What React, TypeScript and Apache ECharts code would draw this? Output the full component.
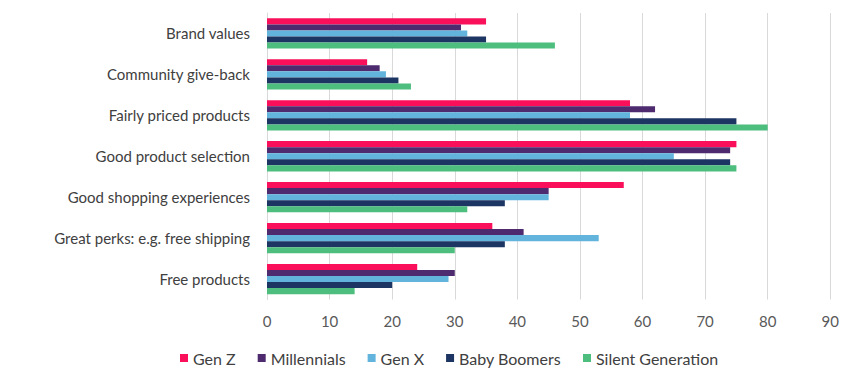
import React, { useEffect, useRef } from "react";
import * as echarts from "echarts";

const categories = [
  "Brand values",
  "Community give-back",
  "Fairly priced products",
  "Good product selection",
  "Good shopping experiences",
  "Great perks: e.g. free shipping",
  "Free products",
];
const seriesNames = ["Gen Z", "Millennials", "Gen X", "Baby Boomers", "Silent Generation"];
const genZ = [35, 16, 58, 75, 57, 36, 24];
const millennials = [31, 18, 62, 74, 45, 41, 30];
const genX = [32, 19, 58, 65, 45, 53, 29];
const babyBoomers = [35, 21, 75, 74, 38, 38, 20];
const silentGeneration = [46, 23, 80, 75, 32, 30, 14];
const xTicks = { min: 0, max: 90, interval: 10 };
const colors = ["#fa0f5a", "#4e2a6e", "#62b4dd", "#1c3563", "#4dbe7e"];

const FONT = "Lato";

export default function App() {
  const ref = useRef<HTMLDivElement>(null);
  useEffect(() => {
    if (!ref.current) return;
    const chart = echarts.init(ref.current, undefined, { renderer: "svg" });
    const values = [genZ, millennials, genX, babyBoomers, silentGeneration];
    chart.setOption({
      animation: false,
      textStyle: { fontFamily: FONT },
      grid: { left: 259, right: 11, top: 5, bottom: 71.5, containLabel: false },
      legend: {
        top: 337,
        left: 167,
        itemWidth: 8,
        itemHeight: 8,
        itemGap: 22,
        icon: "rect",
        textStyle: { fontSize: 16, color: "#404040", fontFamily: FONT, padding: [0, 0, 0, 0] },
        data: seriesNames,
      },
      xAxis: {
        type: "value",
        min: xTicks.min,
        max: xTicks.max,
        interval: xTicks.interval,
        axisLine: { show: false },
        axisTick: { show: false },
        axisLabel: { fontSize: 15, color: "#595959", margin: 14, fontFamily: FONT },
        splitLine: { lineStyle: { color: "#d9d9d9", width: 1 } },
      },
      yAxis: {
        type: "category",
        inverse: true,
        data: categories,
        axisLine: { show: true, lineStyle: { color: "#d9d9d9" } },
        axisTick: { show: false },
        axisLabel: { fontSize: 15, color: "#404040", margin: 17, fontFamily: FONT },
      },
      series: seriesNames.map((name, i) => ({
        name,
        type: "bar",
        data: values[i],
        itemStyle: { color: colors[i] },
        barGap: "0%",
        barCategoryGap: "26%",
      })),
    });
    return () => chart.dispose();
  }, []);
  return <div ref={ref} style={{ width: 834, height: 363 }} />;
}
